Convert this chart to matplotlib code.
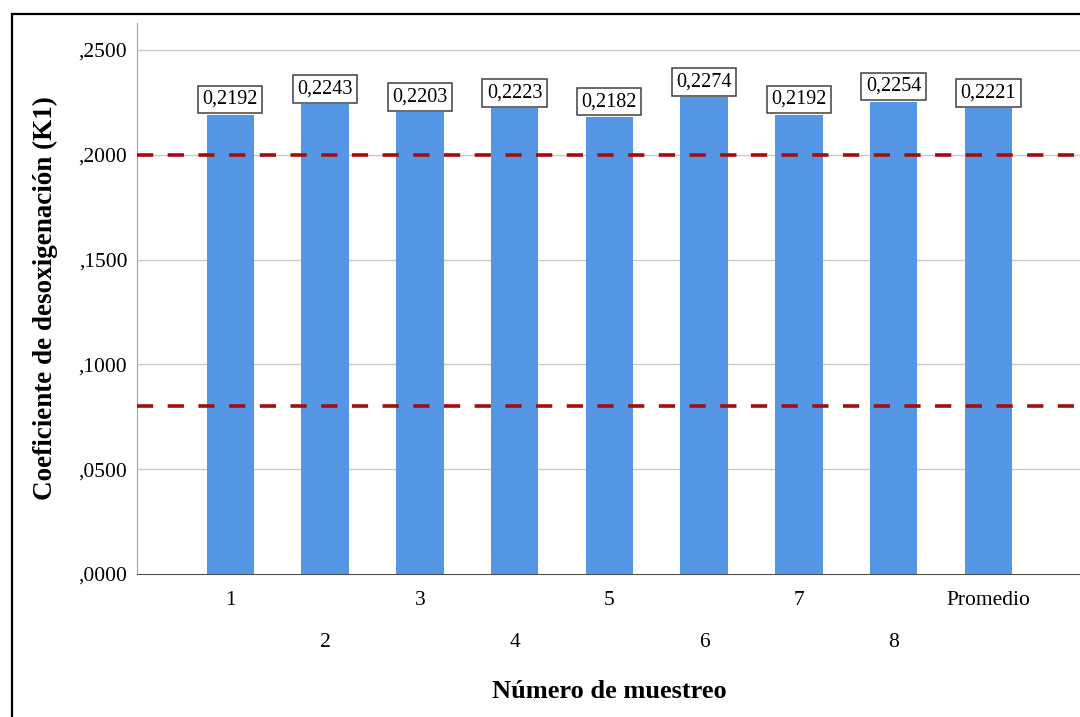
import matplotlib
matplotlib.use("Agg")
from matplotlib import pyplot as plt
from matplotlib.patches import Rectangle

# data
muestras = ["1", "2", "3", "4", "5", "6", "7", "8", "Promedio"]
k1 = [0.2192, 0.2243, 0.2203, 0.2223, 0.2182, 0.2274, 0.2192, 0.2254, 0.2221]
limites = [0.20, 0.08]
y_ticks = [0.0, 0.05, 0.10, 0.15, 0.20, 0.25]

plt.rcParams['font.family'] = ['Liberation Serif', 'DejaVu Serif']

fig = plt.figure(figsize=(10.8, 7.17), dpi=100)
# outer frame (cropped on right and bottom like the original)
fig.patches.append(Rectangle((12 / 1080, -0.1), 1.2, 1 - 14 / 717 + 0.1,
                             transform=fig.transFigure, fill=False,
                             edgecolor='black', linewidth=1.6))

ax = fig.add_axes([137 / 1080, 1 - 574 / 717, (1080 - 137) / 1080 + 0.002, (574 - 22.7) / 717])

x = list(range(len(muestras)))
ax.bar(x, k1, width=0.5, color='#5596E5', zorder=2)

for yv in y_ticks[1:]:
    ax.axhline(yv, color='#c8c8c8', linewidth=1, zorder=1)
for lim in limites:
    ax.axhline(lim, color='#a50d0d', linewidth=2.6, linestyle=(0, (4.5, 4)), zorder=3)

for xi, v in zip(x, k1):
    ax.annotate(("%.4f" % v).replace('.', ','), (xi, v), xytext=(0, 4),
                textcoords='offset points', ha='center', va='bottom',
                fontsize=14.5, zorder=5,
                bbox=dict(boxstyle='square,pad=0.22', facecolor='white',
                          edgecolor='#404040', linewidth=1.1))

ax.set_xlim(-0.985, 8.99)
ax.set_ylim(0, 0.263)
ax.set_yticks(y_ticks)
ax.set_yticklabels([("%.4f" % t)[1:].replace('.', ',') for t in y_ticks], fontsize=15.5)
ax.set_xticks(x)
ax.set_xticklabels([m if i % 2 == 0 else "\n\n" + m for i, m in enumerate(muestras)],
                   fontsize=15.5, linespacing=1.15)
ax.tick_params(length=0, pad=12)
ax.tick_params(axis='y', pad=7)

ax.spines['top'].set_visible(False)
ax.spines['right'].set_visible(False)
ax.spines['left'].set_color('#a0a0a0')
ax.spines['bottom'].set_color('#505050')

ax.set_ylabel("Coeficiente de desoxigenación (K1)", fontsize=19.5, fontweight='bold')
ax.yaxis.set_label_coords(-0.084, 0.5)
ax.set_xlabel("Número de muestreo", fontsize=19, fontweight='bold', labelpad=20)

fig.savefig("out.png", dpi=100)
